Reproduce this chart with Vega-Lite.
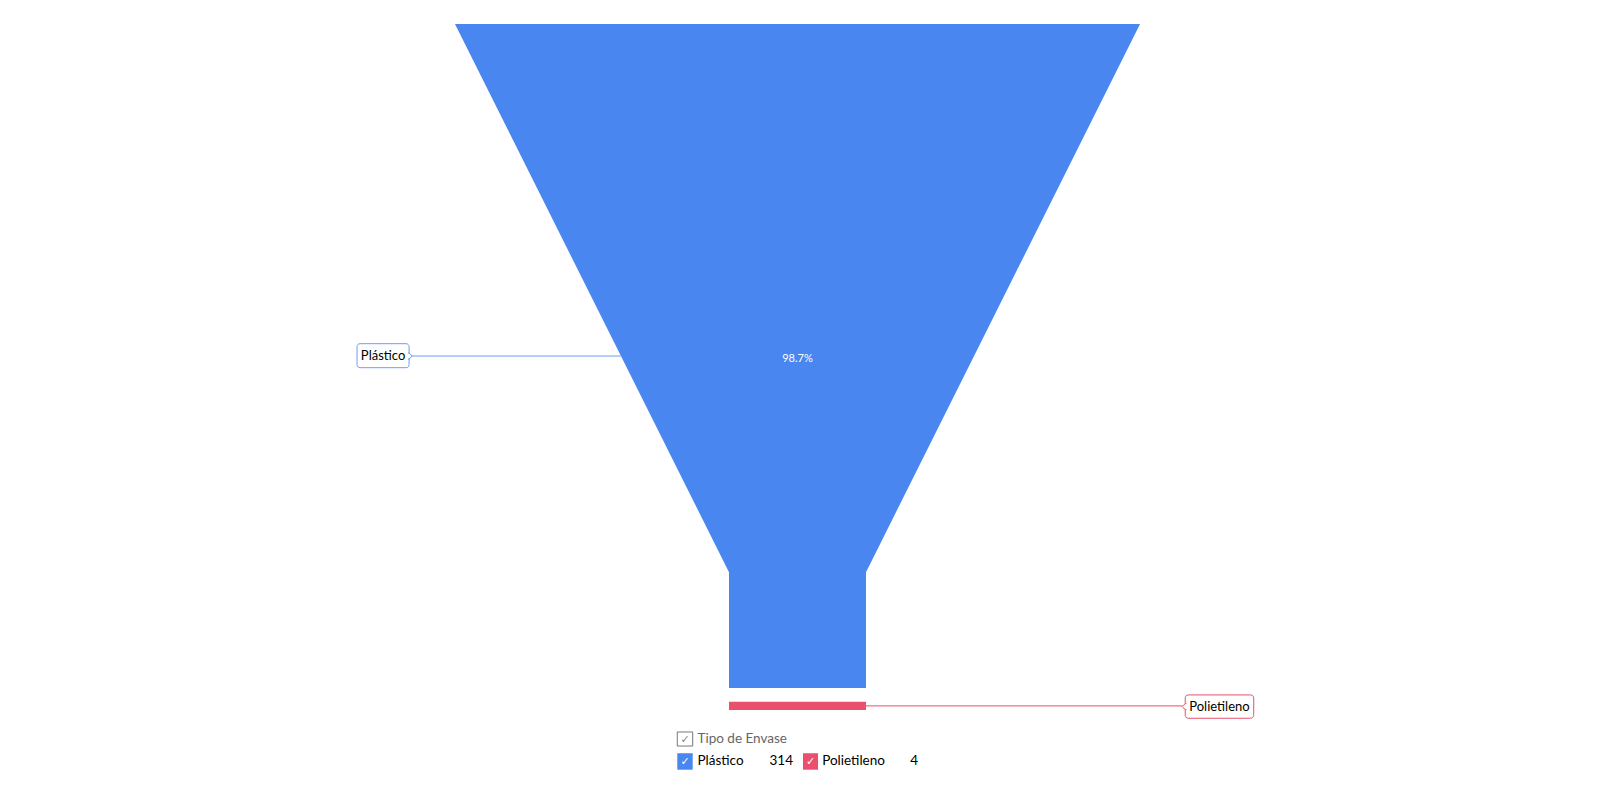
{
  "$schema": "https://vega.github.io/schema/vega-lite/v6.json",
  "width": 1600,
  "height": 785,
  "autosize": {"type": "fit", "contains": "padding"},
  "padding": 0,
  "background": "white",
  "config": {"view": {"stroke": null}, "font": "Lato"},
  "datasets": {
    "envases": [
      {"tipo": "Plástico", "n": 314, "pct": "98.7%"},
      {"tipo": "Polietileno", "n": 4, "pct": "1.3%"}
    ],
    "funnel": [
      {"tipo": "Plástico", "y": 0, "l": -50, "r": 50},
      {"tipo": "Plástico", "y": 79.9, "l": -10, "r": 10},
      {"tipo": "Plástico", "y": 96.8, "l": -10, "r": 10},
      {"tipo": "Polietileno", "y": 98.8, "l": -10, "r": 10},
      {"tipo": "Polietileno", "y": 100, "l": -10, "r": 10}
    ]
  },
  "layer": [
    {
      "data": {"name": "funnel"},
      "mark": {"type": "area", "orient": "horizontal"},
      "encoding": {
        "y": {"field": "y", "type": "quantitative", "scale": {"domain": [-3.5, 110.93], "reverse": true, "nice": false, "zero": false}, "axis": null},
        "x": {"field": "l", "type": "quantitative", "scale": {"domain": [-116.42, 117.15], "nice": false, "zero": false}, "axis": null},
        "x2": {"field": "r"},
        "color": {"field": "tipo", "type": "nominal", "scale": {"domain": ["Plástico", "Polietileno"], "range": ["#4a86f0", "#e9506e"]}, "legend": null}
      }
    },
    {
      "data": {"name": "envases"},
      "transform": [{"filter": "datum.tipo == 'Plástico'"}],
      "mark": {"type": "text", "color": "white", "fontSize": 11, "align": "center", "baseline": "middle"},
      "encoding": {"x": {"datum": 0}, "y": {"datum": 48.9}, "text": {"field": "pct"}}
    },
    {
      "data": {"name": "envases"},
      "transform": [{"filter": "datum.tipo == 'Plástico'"}],
      "mark": {"type": "rule", "color": "#6e9cf2", "strokeWidth": 1},
      "encoding": {"x": {"datum": -56.3}, "x2": {"datum": -25.8}, "y": {"datum": 48.4}}
    },
    {
      "data": {"name": "envases"},
      "transform": [{"filter": "datum.tipo == 'Plástico'"}],
      "mark": {"type": "rect", "fill": "white", "stroke": "#6e9cf2", "strokeWidth": 1, "cornerRadius": 3},
      "encoding": {"x": {"datum": -64.3}, "x2": {"datum": -56.7}, "y": {"datum": 46.6}, "y2": {"datum": 50.1}}
    },
    {
      "data": {"name": "envases"},
      "transform": [{"filter": "datum.tipo == 'Plástico'"}],
      "mark": {"type": "point", "shape": "M-1.4,-1L-1,-1L0,0L-1,1L-1.4,1", "filled": true, "fill": "white", "stroke": "#6e9cf2", "strokeWidth": 1, "size": 36, "opacity": 1},
      "encoding": {"x": {"datum": -56.26}, "y": {"datum": 48.4}}
    },
    {
      "data": {"name": "envases"},
      "transform": [{"filter": "datum.tipo == 'Plástico'"}],
      "mark": {"type": "text", "color": "black", "fontSize": 13, "align": "center", "baseline": "middle"},
      "encoding": {"x": {"datum": -60.5}, "y": {"datum": 48.4}, "text": {"field": "tipo"}}
    },
    {
      "data": {"name": "envases"},
      "transform": [{"filter": "datum.tipo == 'Polietileno'"}],
      "mark": {"type": "rule", "color": "#e9506e", "strokeWidth": 1},
      "encoding": {"x": {"datum": 10}, "x2": {"datum": 56.2}, "y": {"datum": 99.4}}
    },
    {
      "data": {"name": "envases"},
      "transform": [{"filter": "datum.tipo == 'Polietileno'"}],
      "mark": {"type": "rect", "fill": "white", "stroke": "#e9506e", "strokeWidth": 1, "cornerRadius": 3},
      "encoding": {"x": {"datum": 56.6}, "x2": {"datum": 66.6}, "y": {"datum": 97.8}, "y2": {"datum": 101.2}}
    },
    {
      "data": {"name": "envases"},
      "transform": [{"filter": "datum.tipo == 'Polietileno'"}],
      "mark": {"type": "point", "shape": "M1.4,-1L1,-1L0,0L1,1L1.4,1", "filled": true, "fill": "white", "stroke": "#e9506e", "strokeWidth": 1, "size": 36, "opacity": 1},
      "encoding": {"x": {"datum": 56.16}, "y": {"datum": 99.5}}
    },
    {
      "data": {"name": "envases"},
      "transform": [{"filter": "datum.tipo == 'Polietileno'"}],
      "mark": {"type": "text", "color": "black", "fontSize": 13, "align": "center", "baseline": "middle"},
      "encoding": {"x": {"datum": 61.6}, "y": {"datum": 99.5}, "text": {"field": "tipo"}}
    },
    {
      "data": {"name": "envases"},
      "transform": [{"filter": "datum.tipo == 'Plástico'"}],
      "mark": {"type": "rect", "fill": "white", "stroke": "#777777", "strokeWidth": 1},
      "encoding": {"x": {"datum": -17.55}, "x2": {"datum": -15.3}, "y": {"datum": 103.2}, "y2": {"datum": 105.25}}
    },
    {
      "data": {"name": "envases"},
      "transform": [{"filter": "datum.tipo == 'Plástico'"}],
      "mark": {"type": "text", "text": "✓", "color": "#888888", "fontSize": 11, "font": "DejaVu Sans", "align": "center", "baseline": "middle"},
      "encoding": {"x": {"datum": -16.42}, "y": {"datum": 104.3}}
    },
    {
      "data": {"name": "envases"},
      "transform": [{"filter": "datum.tipo == 'Plástico'"}],
      "mark": {"type": "text", "text": "Tipo de Envase", "color": "#666666", "fontSize": 13.5, "align": "left", "baseline": "middle"},
      "encoding": {"x": {"datum": -14.6}, "y": {"datum": 104.2}}
    },
    {
      "data": {"name": "envases"},
      "transform": [{"filter": "datum.tipo == 'Plástico'"}],
      "mark": {"type": "rect", "fill": "#4a86f0"},
      "encoding": {"x": {"datum": -17.55}, "x2": {"datum": -15.3}, "y": {"datum": 106.3}, "y2": {"datum": 108.7}}
    },
    {
      "data": {"name": "envases"},
      "transform": [{"filter": "datum.tipo == 'Polietileno'"}],
      "mark": {"type": "rect", "fill": "#e9506e"},
      "encoding": {"x": {"datum": 0.8}, "x2": {"datum": 3.0}, "y": {"datum": 106.3}, "y2": {"datum": 108.7}}
    },
    {
      "data": {"name": "envases"},
      "transform": [{"filter": "datum.tipo == 'Plástico'"}],
      "mark": {"type": "text", "text": "✓", "color": "white", "fontSize": 11, "font": "DejaVu Sans", "align": "center", "baseline": "middle"},
      "encoding": {"x": {"datum": -16.42}, "y": {"datum": 107.6}}
    },
    {
      "data": {"name": "envases"},
      "transform": [{"filter": "datum.tipo == 'Polietileno'"}],
      "mark": {"type": "text", "text": "✓", "color": "white", "fontSize": 11, "font": "DejaVu Sans", "align": "center", "baseline": "middle"},
      "encoding": {"x": {"datum": 1.9}, "y": {"datum": 107.6}}
    },
    {
      "data": {"name": "envases"},
      "transform": [{"filter": "datum.tipo == 'Plástico'"}],
      "mark": {"type": "text", "color": "black", "fontSize": 13.5, "align": "left", "baseline": "middle"},
      "encoding": {"x": {"datum": -14.6}, "y": {"datum": 107.5}, "text": {"field": "tipo"}}
    },
    {
      "data": {"name": "envases"},
      "transform": [{"filter": "datum.tipo == 'Plástico'"}],
      "mark": {"type": "text", "color": "black", "fontSize": 13.5, "align": "right", "baseline": "middle"},
      "encoding": {"x": {"datum": -0.66}, "y": {"datum": 107.5}, "text": {"field": "n"}}
    },
    {
      "data": {"name": "envases"},
      "transform": [{"filter": "datum.tipo == 'Polietileno'"}],
      "mark": {"type": "text", "color": "black", "fontSize": 13.5, "align": "left", "baseline": "middle"},
      "encoding": {"x": {"datum": 3.6}, "y": {"datum": 107.5}, "text": {"field": "tipo"}}
    },
    {
      "data": {"name": "envases"},
      "transform": [{"filter": "datum.tipo == 'Polietileno'"}],
      "mark": {"type": "text", "color": "black", "fontSize": 13.5, "align": "right", "baseline": "middle"},
      "encoding": {"x": {"datum": 17.6}, "y": {"datum": 107.5}, "text": {"field": "n"}}
    }
  ]
}
